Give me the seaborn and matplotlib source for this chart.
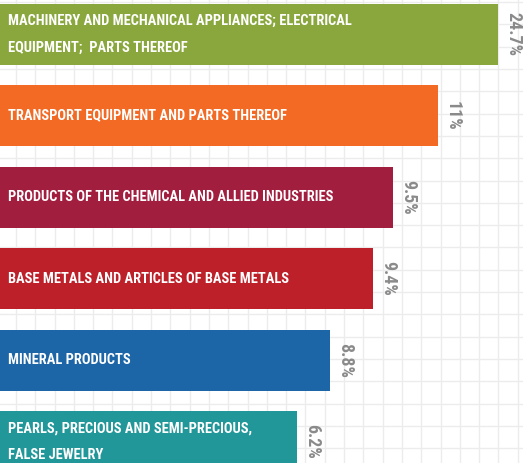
import numpy as np
import pandas as pd
import matplotlib
matplotlib.use("Agg")
import matplotlib.pyplot as plt
from matplotlib import font_manager as fm
import seaborn as sns

# ---- data ----
categories = [
    "Machinery and mechanical appliances; electrical equipment; parts thereof",
    "Transport equipment and parts thereof",
    "Products of the chemical and allied industries",
    "Base metals and articles of base metals",
    "Mineral products",
    "Pearls, precious and semi-precious, false jewelry",
]
bar_labels = [
    "MACHINERY AND MECHANICAL APPLIANCES; ELECTRICAL\nEQUIPMENT;  PARTS THEREOF",
    "TRANSPORT EQUIPMENT AND PARTS THEREOF",
    "PRODUCTS OF THE CHEMICAL AND ALLIED INDUSTRIES",
    "BASE METALS AND ARTICLES OF BASE METALS",
    "MINERAL PRODUCTS",
    "PEARLS, PRECIOUS AND SEMI-PRECIOUS,\nFALSE JEWELRY",
]
shares = [24.7, 11, 9.5, 9.4, 8.8, 6.2]
# displayed bar lengths (the graphic does not draw bars proportional to shares)
bar_lengths = [498, 438, 393, 373, 330, 297]
colors = ["#89A73D", "#F26A24", "#A21E3F", "#BE2029", "#1C66A8", "#21979A"]

W, H = 523, 463


# ---- pick the narrowest sans font available ----
def _w(f):
    w = f.weight
    if isinstance(w, str):
        w = fm.weight_dict.get(w.lower(), 400)
    return int(w)


def _is_cond(f):
    n = f.name.lower()
    st = str(f.stretch).lower()
    return "condensed" in st or "narrow" in n or "condensed" in n or "narrow" in st


pref = ["roboto", "open sans", "liberation", "dejavu", "noto", "lato", "inter"]


def _rank(f):
    n = f.name.lower()
    for k, p in enumerate(pref):
        if p in n:
            return k
    return len(pref)


def pick(bold):
    pool = [f for f in fm.fontManager.ttflist
            if _is_cond(f) and f.style == "normal" and "mono" not in f.name.lower()
            and "serif" not in f.name.lower()]
    if bold:
        pool = [f for f in pool if _w(f) >= 600]
    else:
        pool = [f for f in pool if 350 <= _w(f) < 600]
    if pool:
        pool.sort(key=lambda f: (_rank(f), abs(_w(f) - (700 if bold else 400))))
        return fm.FontProperties(fname=pool[0].fname)
    return fm.FontProperties(family=["Roboto", "DejaVu Sans"],
                             weight="bold" if bold else "normal")


fp_bold = pick(True)

fig = plt.figure(figsize=(W / 100, H / 100), dpi=100)
fig.patch.set_facecolor("white")

# graph-paper background
bg = fig.add_axes([0, 0, 1, 1])
bg.set_xlim(0, W)
bg.set_ylim(H, 0)
bg.set_xticks(np.arange(15.9, W, 19.3))
bg.set_yticks(np.arange(2.1, H, 22.3))
bg.grid(True, color="#ececec", lw=1.0)
bg.tick_params(length=0, labelbottom=False, labelleft=False)
for s in bg.spines.values():
    s.set_visible(False)
bg.set_zorder(0)

# bars
ax = fig.add_axes([0, 0, 1, 1])
ax.patch.set_alpha(0)
ax.set_zorder(1)
df = pd.DataFrame({"category": categories, "length": bar_lengths})
sns.barplot(data=df, y="category", x="length", hue="category", palette=colors,
            legend=False, orient="h", width=0.748, saturation=1,
            linewidth=0, ax=ax)
ax.set_xlim(0, W)
ax.set_ylim(5.261, -0.417)
ax.axis("off")

renderer = fig.canvas.get_renderer()


def fit_size(fp, s, target_px):
    p = fp.copy()
    p.set_size(10)
    t = fig.text(0, 0, s, fontproperties=p)
    w = t.get_window_extent(renderer).width
    t.remove()
    return 10 * target_px / w


bar_size = min(fit_size(fp_bold, "TRANSPORT EQUIPMENT AND PARTS THEREOF", 277), 15)
val_size = min(fit_size(fp_bold, "24.7%", 44), 16)

fpb = fp_bold.copy()
fpb.set_size(bar_size)
fpv = fp_bold.copy()
fpv.set_size(val_size)

for i, (lab, v, L) in enumerate(zip(bar_labels, shares, bar_lengths)):
    ax.text(8, i, lab, color="white", fontproperties=fpb,
            ha="left", va="center", linespacing=2.15)
    ax.text(L + 6, i, f"{v:g}%", rotation=-90, color="#8a8a8a",
            fontproperties=fpv, ha="left", va="center")

fig.savefig("out.png", dpi=100)
